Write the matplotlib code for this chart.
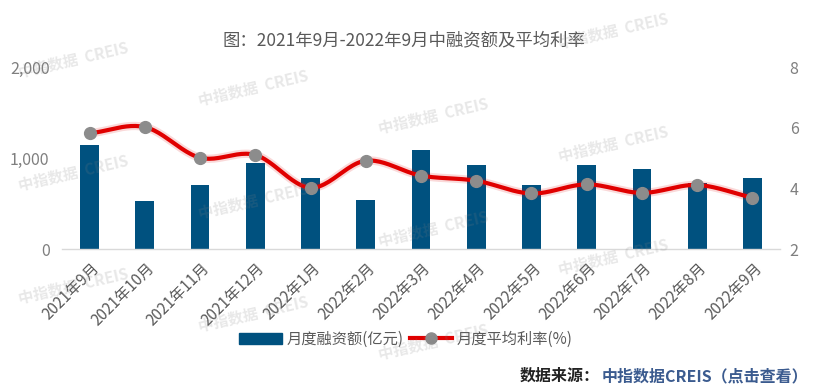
import numpy as np
import matplotlib
matplotlib.use('Agg')
import matplotlib.pyplot as plt
from matplotlib.lines import Line2D
from matplotlib.patches import Patch
from matplotlib.transforms import ScaledTranslation

plt.rcParams['font.family'] = ['Noto Sans CJK SC', 'DejaVu Sans']

months = ['2021年9月', '2021年10月', '2021年11月', '2021年12月', '2022年1月', '2022年2月',
          '2022年3月', '2022年4月', '2022年5月', '2022年6月', '2022年7月', '2022年8月', '2022年9月']
financing = [1140, 530, 700, 940, 785, 535, 1090, 920, 705, 925, 875, 720, 775]
rate = [5.81, 6.02, 5.01, 5.10, 4.02, 4.91, 4.42, 4.25, 3.83, 4.13, 3.85, 4.11, 3.69]
left_ticks = [0, 1000, 2000]
left_labels = ['0', '1,000', '2,000']
right_ticks = [2, 4, 6, 8]

BLUE = '#00517f'
RED = '#e00000'
GREY = '#8c8c8c'
TXT = '#595959'


def catmull_rom(xs, ys, n=24):
    xs = np.asarray(xs, float); ys = np.asarray(ys, float)
    px = np.concatenate([[2 * xs[0] - xs[1]], xs, [2 * xs[-1] - xs[-2]]])
    py = np.concatenate([[2 * ys[0] - ys[1]], ys, [2 * ys[-1] - ys[-2]]])
    outx, outy = [], []
    t = np.linspace(0, 1, n, endpoint=False)
    for i in range(1, len(px) - 2):
        for P, out in ((px, outx), (py, outy)):
            p0, p1, p2, p3 = P[i - 1], P[i], P[i + 1], P[i + 2]
            out.extend(0.5 * ((2 * p1) + (-p0 + p2) * t + (2 * p0 - 5 * p1 + 4 * p2 - p3) * t ** 2
                              + (-p0 + 3 * p1 - 3 * p2 + p3) * t ** 3))
    outx.append(xs[-1]); outy.append(ys[-1])
    return np.array(outx), np.array(outy)


fig = plt.figure(figsize=(8.3, 3.91), dpi=100)
ax = fig.add_axes([62 / 830, 1 - 249 / 391, 718 / 830, 182 / 391])
x = np.arange(len(months))
ax.bar(x, financing, width=0.34, color=BLUE, zorder=2)
ax.set_xlim(-0.5, len(months) - 0.5)
ax.set_ylim(0, 2000)
ax.set_yticks(left_ticks)
ax.set_yticklabels(left_labels)
for s in ['top', 'right', 'left']:
    ax.spines[s].set_visible(False)
ax.spines['bottom'].set_color('#d9d9d9')
ax.spines['bottom'].set_linewidth(1.0)
ax.tick_params(axis='y', length=0, pad=9, labelsize=11.5, labelcolor='#7f7f7f')
ax.set_xticks(x)
ax.set_xticklabels(months, rotation=45, ha='right', va='center', rotation_mode='anchor')
ax.tick_params(axis='x', length=0, pad=12, labelsize=11, labelcolor=TXT)
for lab in ax.get_xticklabels():
    lab.set_transform(lab.get_transform() + ScaledTranslation(7 / 100, 0, fig.dpi_scale_trans))

ax2 = ax.twinx()
ax2.set_ylim(2, 8)
ax2.set_yticks(right_ticks)
for s in ax2.spines.values():
    s.set_visible(False)
ax2.tick_params(axis='y', length=0, pad=7, labelsize=11.5, labelcolor='#7f7f7f')
sx, sy = catmull_rom(x, rate)
ax2.plot(sx, sy, color=RED, lw=6, alpha=0.15, zorder=3, solid_capstyle='round')
ax2.plot(sx, sy, color=RED, lw=3, zorder=4, solid_capstyle='round')
ax2.plot(x, rate, linestyle='none', marker='o', markersize=8.5, markerfacecolor=GREY,
         markeredgecolor=GREY, zorder=5)

fig.text(404 / 830, 1 - 40 / 391, '图：2021年9月-2022年9月中融资额及平均利率', ha='center', va='center',
         fontsize=12.5, color=TXT)

handles = [Patch(facecolor=BLUE, edgecolor=BLUE),
           Line2D([], [], color=RED, lw=3, marker='o', markersize=8, markerfacecolor=GREY,
                  markeredgecolor=GREY)]
fig.legend(handles, ['月度融资额(亿元)', '月度平均利率(%)'], loc='center',
           bbox_to_anchor=(406 / 830, 1 - 339 / 391), ncol=2, frameon=False, fontsize=11,
           labelcolor=TXT, handlelength=2.8, handletextpad=0.3, columnspacing=0.4)

src = fig.text(808 / 830, 1 - 376 / 391, '中指数据CREIS（点击查看）', ha='right', va='center',
               fontsize=11.5, color='#3b5b8f', fontweight='bold')
fig.canvas.draw()
bb = src.get_window_extent(fig.canvas.get_renderer())
fig.text((bb.x0 - 2) / 830, 1 - 376 / 391, '数据来源：', ha='right', va='center', fontsize=11.5,
         color='#222222', fontweight='bold')

# watermarks (only those fully inside the canvas)
for c in range(5):
    for k in range(-1, 4):
        xl = 17 + 180 * c
        yc = 60 + 28 * c + 113 * k
        if 25 < yc < 365 and xl + 140 < 830:
            fig.text(xl / 830, 1 - yc / 391, '中指数据  CREIS', ha='left', va='center', rotation=13,
                     fontsize=11, fontweight='bold', color='#808080', alpha=0.18, zorder=10)

fig.savefig('out.png', dpi=100)
